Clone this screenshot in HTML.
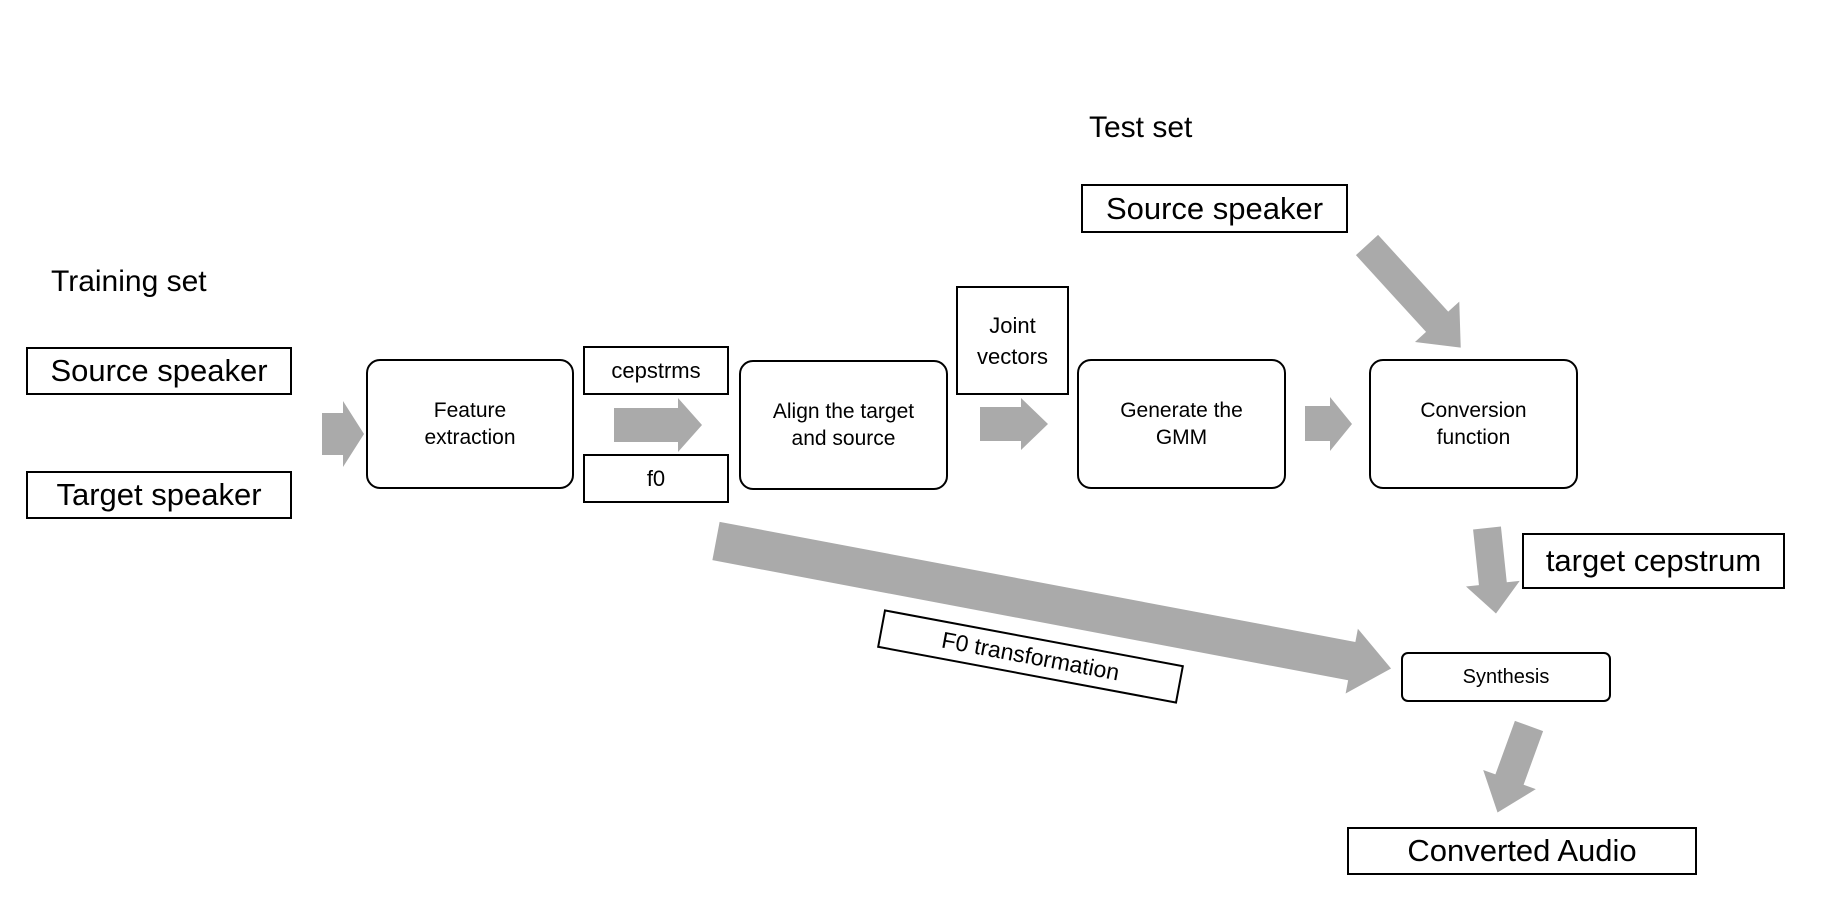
<!DOCTYPE html>
<html><head><meta charset="utf-8"><style>
body{margin:0;width:1840px;height:918px;background:#fff;position:relative;overflow:hidden;font-family:"Liberation Sans",sans-serif;color:#000}
.b{position:absolute;box-sizing:border-box;border:2px solid #000;display:flex;align-items:center;justify-content:center;text-align:center;background:#fff}
.r{border-radius:14px;font-size:21px;line-height:27px}
.t{position:absolute;white-space:nowrap}
svg{position:absolute;left:0;top:0}
</style></head><body>
<svg width="1840" height="918">
<defs><polygon id="a" points="0,-1 0.7,-1 0.7,-1.7 1,0 0.7,1.7 0.7,1 0,1"/></defs>
<g fill="#aaa">
<polygon points="322,413 343,413 343,401 364,434 343,467 343,455 322,455"/>
<polygon points="614,408 678,408 678,398 702,425 678,452 678,442 614,442"/>
<polygon points="980,407 1021,407 1021,398 1048,424 1021,450 1021,441 980,441"/>
<polygon points="1305,406 1330,406 1330,397 1352,424 1330,451 1330,441 1305,441"/>
<g transform="translate(1367,245) rotate(47.6)"><polygon points="0,-15 104,-15 104,-30 139,0 104,30 104,15 0,15"/></g>
<g transform="translate(1487,528) rotate(84)"><polygon points="0,-14 56,-14 56,-27 86,0 56,27 56,14 0,14"/></g>
<g transform="translate(716,541) rotate(10.7)"><polygon points="0,-19.5 647,-19.5 647,-33 687,0 647,33 647,19.5 0,19.5"/></g>
<g transform="translate(1529,726) rotate(110)"><polygon points="0,-15 57,-15 57,-28 92,0 57,28 57,15 0,15"/></g>
</g>
</svg>
<div class="t" style="left:51px;top:265px;font-size:30px">Training set</div>
<div class="t" style="left:1089px;top:111px;font-size:30px">Test set</div>
<div class="b" style="left:26px;top:347px;width:266px;height:48px;font-size:31px">Source speaker</div>
<div class="b" style="left:26px;top:471px;width:266px;height:48px;font-size:31px">Target speaker</div>
<div class="b r" style="left:366px;top:359px;width:208px;height:130px">Feature<br>extraction</div>
<div class="b" style="left:583px;top:346px;width:146px;height:49px;font-size:22px">cepstrms</div>
<div class="b" style="left:583px;top:454px;width:146px;height:49px;font-size:22px">f0</div>
<div class="b r" style="left:739px;top:360px;width:209px;height:130px">Align the target<br>and source</div>
<div class="b" style="left:956px;top:286px;width:113px;height:109px;font-size:22px;line-height:31px">Joint<br>vectors</div>
<div class="b r" style="left:1077px;top:359px;width:209px;height:130px">Generate the<br>GMM</div>
<div class="b r" style="left:1369px;top:359px;width:209px;height:130px">Conversion<br>function</div>
<div class="b" style="left:1081px;top:184px;width:267px;height:49px;font-size:31px">Source speaker</div>
<div class="b" style="left:1522px;top:533px;width:263px;height:56px;font-size:31px">target cepstrum</div>
<div class="b" style="left:1030px;top:656px;width:305px;height:39px;margin-left:-152px;margin-top:-19px;transform:rotate(10.6deg);font-size:23px">F0 transformation</div>
<div class="b" style="left:1401px;top:652px;width:210px;height:50px;border-radius:7px;font-size:20px">Synthesis</div>
<div class="b" style="left:1347px;top:827px;width:350px;height:48px;font-size:31px">Converted Audio</div>
</body></html>
